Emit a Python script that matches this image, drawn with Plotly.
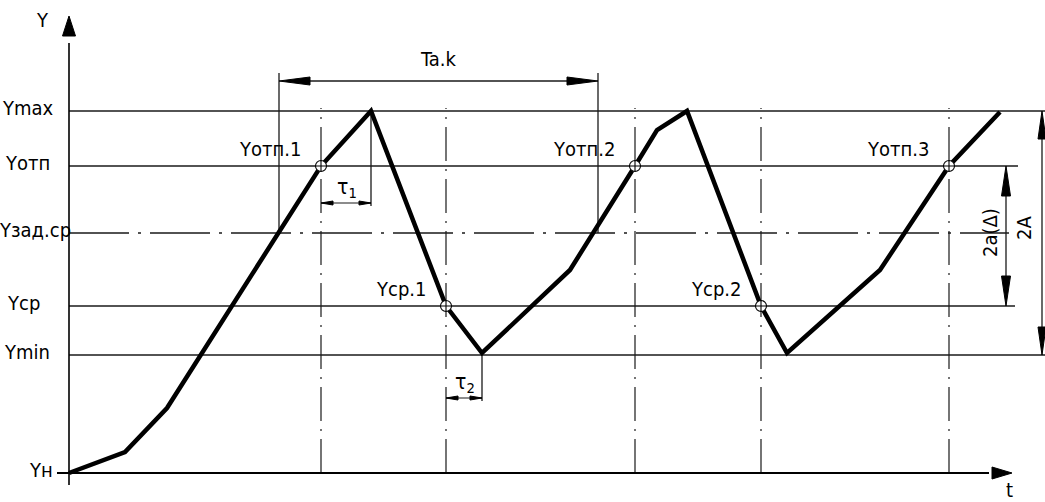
import plotly.graph_objects as go

# ---- data (units: t and Y in drawing units) ----
curve_t = [0, 56, 98, 252, 302, 377, 413, 501, 566, 588, 618, 692, 718, 811, 880, 931]
curve_y = [0, 21, 65, 307, 362, 167, 120, 203, 307, 343, 362, 167, 120, 203, 307, 361]

level_names = ["Ymax", "Yотп", "Yзад.ср", "Yср", "Ymin", "Yн"]
level_values = [362, 307, 240, 167, 118, 0]

point_names = ["Yотп.1", "Yср.1", "Yотп.2", "Yср.2", "Yотп.3"]
point_t = [252, 377, 566, 692, 880]
point_y = [307, 167, 307, 167, 307]

period_start = 210
period_end = 529
tau1_start, tau1_end = 252, 302
tau2_start, tau2_end = 377, 413

# ---- layout / style constants ----
W, H = 1045, 502
X0, Y0 = 69, 473  # pixel position of origin
FONT = "Liberation Sans Narrow, Arial Narrow, DejaVu Sans Condensed, sans-serif"
FS = 20
LC = "#1a1a1a"

fig = go.Figure()


def line(xs, ys, width=1.3, dash="solid", color=LC):
    fig.add_trace(go.Scatter(x=xs, y=ys, mode="lines",
                             line=dict(color=color, width=width, dash=dash),
                             hoverinfo="skip", showlegend=False))


def head(tx, ty, dx, dy, length, half):
    # filled triangle arrowhead, tip at (tx,ty) pointing along (dx,dy)
    n = (dx * dx + dy * dy) ** 0.5
    ux, uy = dx / n, dy / n
    px, py = -uy, ux
    bx, by = tx - ux * length, ty - uy * length
    xs = [tx, bx + px * half, bx - px * half, tx]
    ys = [ty, by + py * half, by - py * half, ty]
    fig.add_trace(go.Scatter(x=xs, y=ys, mode="lines", fill="toself",
                             fillcolor="black", line=dict(color="black", width=1),
                             hoverinfo="skip", showlegend=False))


def text(x, y, s, xanchor="center", yanchor="middle", angle=0, size=FS):
    fig.add_annotation(x=x, y=y, text=s, showarrow=False, xanchor=xanchor,
                       yanchor=yanchor, textangle=angle,
                       font=dict(family=FONT, size=size, color="black"))


# horizontal level lines
level_ends = {"Ymax": 976, "Yотп": 949, "Yзад.ср": 940, "Yср": 946, "Ymin": 976}
for name, val in zip(level_names, level_values):
    if name == "Yн":
        continue
    dash = "60px,9px,3px,9px" if name == "Yзад.ср" else "solid"
    line([0, level_ends[name]], [val, val], dash=dash)

# vertical dash-dot lines through characteristic points
top_v = level_values[0] + 3
for t in point_t:
    line([t, t], [0, top_v], width=1.2, dash="34px,8px,2px,8px")

# axes
line([0, 0], [-12, 430], width=1.6, color="black")
head(0, 457, 0, 1, 20, 6.5)
line([-12, 920], [0, 0], width=1.8, color="black")
head(943, 0, 1, 0, 20, 6)
text(-27, 453, "Y")
text(940, -17, "t")

# level labels
label_x = {"Ymax": -41, "Yотп": -42, "Yзад.ср": -34, "Yср": -46, "Ymin": -42, "Yн": -28}
for name, val in zip(level_names, level_values):
    text(label_x[name], val + 3, name)

# period Ta.k
dim_y = 392
line([period_start, period_start], [level_values[2], dim_y + 8])
line([period_end, period_end], [level_values[2], dim_y + 8])
line([period_start + 25, period_end - 25], [dim_y, dim_y])
head(period_start, dim_y, -1, 0, 31, 4)
head(period_end, dim_y, 1, 0, 31, 4)
text((period_start + period_end) / 2 - 0.5, 414, "Ta.k")

# tau1
ty1 = 270
line([tau1_end, tau1_end], [level_values[0], ty1 - 3])
line([tau1_start, tau1_end], [ty1, ty1], width=1.1)
head(tau1_start, ty1, -1, 0, 12, 2)
head(tau1_end, ty1, 1, 0, 12, 2)
text((tau1_start + tau1_end) / 2 + 1, 285, "τ<sub>1</sub>", size=21)

# tau2
ty2 = 75
line([tau2_end, tau2_end], [curve_y[6], ty2 - 3])
line([tau2_start, tau2_end], [ty2, ty2], width=1.1)
head(tau2_start, ty2, -1, 0, 12, 2)
head(tau2_end, ty2, 1, 0, 12, 2)
text((tau2_start + tau2_end) / 2 + 1, 90, "τ<sub>2</sub>", size=21)

# 2a(Δ)
xa = 937
line([xa, xa], [level_values[3] + 25, level_values[1] - 25])
head(xa, level_values[1], 0, 1, 30, 4.5)
head(xa, level_values[3], 0, -1, 30, 4.5)
text(921, 240, "2a(Δ)", angle=-90)

# 2A
xA = 973
line([xA, xA], [level_values[4] + 25, level_values[0] - 25])
head(xA, level_values[0], 0, 1, 28, 4)
head(xA, level_values[4], 0, -1, 28, 4)
text(955, 245, "2A", angle=-90)

# process curve
fig.add_trace(go.Scatter(x=curve_t, y=curve_y, mode="lines",
                         line=dict(color="black", width=4.5),
                         hoverinfo="skip", showlegend=False))

# characteristic points
fig.add_trace(go.Scatter(x=point_t, y=point_y, mode="markers",
                         marker=dict(symbol="circle-cross", size=11, color="white",
                                     line=dict(color="black", width=1.1)),
                         hoverinfo="skip", showlegend=False))
for name, t, y in zip(point_names, point_t, point_y):
    text(t - 18, y + 17, name, xanchor="right")

fig.update_layout(
    width=W, height=H, margin=dict(l=0, r=0, t=0, b=0),
    paper_bgcolor="white", plot_bgcolor="white", showlegend=False,
    xaxis=dict(range=[-X0, W - X0], visible=False, fixedrange=True),
    yaxis=dict(range=[Y0 - H, Y0], visible=False, fixedrange=True),
)
fig.write_html("out.html", config={"displayModeBar": False},
               post_script="document.body.style.margin='0';document.body.style.overflow='hidden';")
